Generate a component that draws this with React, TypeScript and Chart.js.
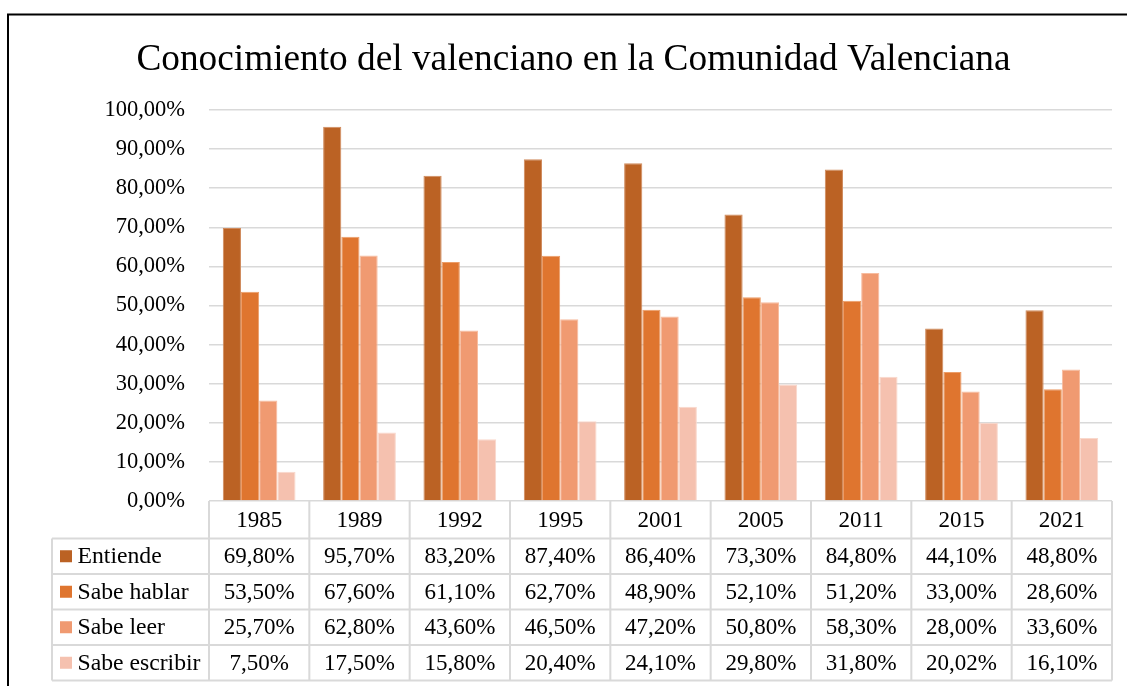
import React, { useEffect, useRef } from "react";
import { Chart, registerables } from "chart.js";

Chart.register(...registerables);

const title = "Conocimiento del valenciano en la Comunidad Valenciana";
const years = ["1985", "1989", "1992", "1995", "2001", "2005", "2011", "2015", "2021"];
const seriesNames = ["Entiende", "Sabe hablar", "Sabe leer", "Sabe escribir"];
const entiende = [69.8, 95.7, 83.2, 87.4, 86.4, 73.3, 84.8, 44.1, 48.8];
const sabeHablar = [53.5, 67.6, 61.1, 62.7, 48.9, 52.1, 51.2, 33.0, 28.6];
const sabeLeer = [25.7, 62.8, 43.6, 46.5, 47.2, 50.8, 58.3, 28.0, 33.6];
const sabeEscribir = [7.5, 17.5, 15.8, 20.4, 24.1, 29.8, 31.8, 20.02, 16.1];
const colors = ["#BB6224", "#DF752F", "#F09A71", "#F5C1AF"];
const edgeColors = ["#D08A5C", "#EC9D68", "#F7BC9F", "#F9D8CC"];

const FONT = "'Liberation Serif', 'Times New Roman', serif";
const fmt = (v: number) => v.toFixed(2).replace(".", ",") + "%";

const seriesValues = [entiende, sabeHablar, sabeLeer, sabeEscribir];

const decorPlugin = {
  id: "decor",
  beforeDraw(chart: any) {
    const { ctx } = chart;
    ctx.save();
    ctx.fillStyle = "#ffffff";
    ctx.fillRect(0, 0, chart.width, chart.height);
    ctx.restore();
  },
  afterDraw(chart: any) {
    const { ctx, chartArea } = chart;
    ctx.save();
    // outer border
    ctx.strokeStyle = "#000000";
    ctx.lineWidth = 2;
    ctx.strokeRect(8, 14.5, chart.width + 20, chart.height + 20);

    // title
    ctx.fillStyle = "#000000";
    ctx.font = `37.3px ${FONT}`;
    ctx.textAlign = "center";
    ctx.textBaseline = "alphabetic";
    ctx.fillText(title, 573.5, 70);

    // data table
    const n = years.length;
    const left = chartArea.left;
    const right = chartArea.right;
    const colW = (right - left) / n;
    const top = chartArea.bottom;
    const headerH = 37.5;
    const rowH = 35.5;
    const legendLeft = 52;
    const tableBottom = top + headerH + rowH * seriesNames.length;

    ctx.strokeStyle = "#d9d9d9";
    ctx.lineWidth = 2;
    ctx.beginPath();
    for (let i = 0; i <= n; i++) {
      const x = left + i * colW;
      ctx.moveTo(x, top);
      ctx.lineTo(x, tableBottom);
    }
    for (let r = 0; r <= seriesNames.length; r++) {
      const y = top + headerH + r * rowH;
      ctx.moveTo(legendLeft, y);
      ctx.lineTo(right, y);
    }
    ctx.moveTo(legendLeft, top + headerH);
    ctx.lineTo(legendLeft, tableBottom);
    ctx.stroke();

    ctx.fillStyle = "#000000";
    ctx.font = `23px ${FONT}`;
    ctx.textBaseline = "middle";
    ctx.textAlign = "center";
    for (let i = 0; i < n; i++) {
      const cx = left + (i + 0.5) * colW;
      ctx.fillText(years[i], cx, top + headerH / 2 + 1);
    }
    for (let r = 0; r < seriesNames.length; r++) {
      const cy = top + headerH + (r + 0.5) * rowH + 1;
      ctx.fillStyle = colors[r];
      ctx.fillRect(60, cy - 7, 12, 12);
      ctx.fillStyle = "#000000";
      ctx.textAlign = "left";
      ctx.font = `23.7px ${FONT}`;
      ctx.fillText(seriesNames[r], 77.5, cy);
      ctx.textAlign = "center";
      ctx.font = `23px ${FONT}`;
      for (let i = 0; i < n; i++) {
        const cx = left + (i + 0.5) * colW;
        ctx.fillText(fmt(seriesValues[r][i]), cx, cy);
      }
    }
    ctx.restore();
  },
};

export default function App() {
  const ref = useRef<HTMLCanvasElement | null>(null);
  useEffect(() => {
    if (!ref.current) return;
    const chart = new Chart(ref.current, {
      type: "bar",
      data: {
        labels: years,
        datasets: seriesNames.map((name, i) => ({
          label: name,
          data: seriesValues[i],
          backgroundColor: colors[i],
          borderColor: edgeColors[i],
          borderWidth: 1,
          barPercentage: 1,
          categoryPercentage: 0.725,
        })),
      },
      options: {
        responsive: false,
        animation: false,
        devicePixelRatio: 1,
        layout: { padding: { left: 0, top: 110, right: 15, bottom: 185 } },
        plugins: {
          legend: { display: false },
          title: { display: false },
          tooltip: { enabled: false },
        },
        scales: {
          x: { display: false },
          y: {
            min: 0,
            max: 100,
            afterFit: (scale: any) => {
              scale.width = 209;
            },
            border: { display: false },
            grid: { color: "#d9d9d9", lineWidth: 1.5, drawTicks: false },
            ticks: {
              stepSize: 10,
              padding: 24,
              color: "#000000",
              font: { family: FONT, size: 22.5 },
              callback: (v: any) => fmt(Number(v)),
            },
          },
        },
      },
      plugins: [decorPlugin],
    });
    return () => chart.destroy();
  }, []);
  return (
    <div style={{ position: "absolute", left: 0, top: 0, width: 1127, height: 686 }}>
      <canvas ref={ref} width={1127} height={686} />
    </div>
  );
}
